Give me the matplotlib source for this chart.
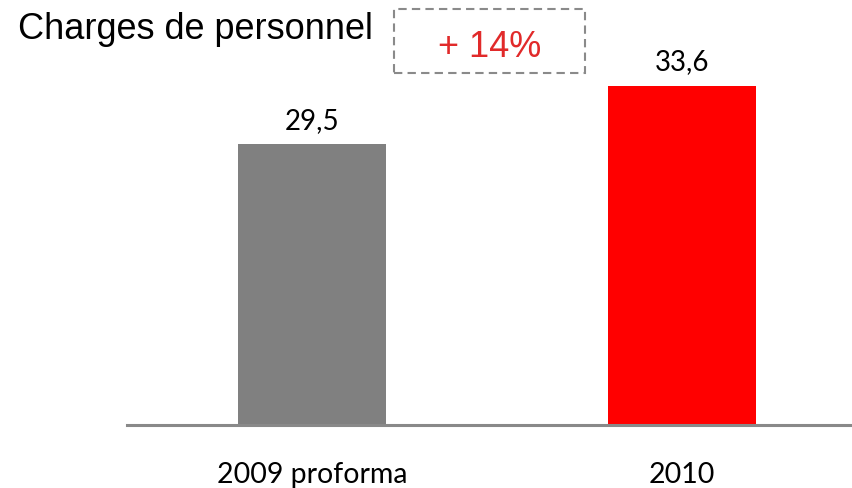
import matplotlib
matplotlib.use("Agg")
import matplotlib.pyplot as plt
from matplotlib.patches import Rectangle

categories = ["2009 proforma", "2010"]
values = [29.5, 33.6]
value_labels = ["29,5", "33,6"]
bar_colors = ["#808080", "#ff0000"]
title = "Charges de personnel"
growth_label = "+ 14%"

W, H = 852, 489
fig = plt.figure(figsize=(W / 100, H / 100), dpi=100)

# axes: x from -0.5..1.5 mapped to px 127..867 ; y 10..35 mapped to baseline 425.5
ax_left = 127 / W
ax_width = 740 / W
ax_bottom = (H - 425.5) / H
ax_height = (25 * 14.36) / H
ax = fig.add_axes([ax_left, ax_bottom, ax_width, ax_height])

x = list(range(len(categories)))
ax.bar(x, values, width=0.4, color=bar_colors, zorder=2)
ax.set_xlim(-0.5, 1.5)
ax.set_ylim(10, 35)

for xi, v, lab in zip(x, values, value_labels):
    ax.annotate(lab, (xi, v), xytext=(0, 8), textcoords="offset points",
                ha="center", va="bottom", fontsize=20, family="Lato", color="black")

for s in ["left", "right", "top"]:
    ax.spines[s].set_visible(False)
ax.spines["bottom"].set_color("#898989")
ax.spines["bottom"].set_linewidth(2.2)
ax.spines["bottom"].set_zorder(3)
ax.set_yticks([])
ax.set_xticks(x)
ax.set_xticklabels(categories, fontsize=20.5, family="Lato")
ax.tick_params(axis="x", length=0, pad=26)

# title
fig.text(18 / W, (H - 39) / H, title, fontsize=26, family="Liberation Sans",
         ha="left", va="baseline", color="black")

# dashed box with growth
bx0, bx1, by0, by1 = 394, 585, 10, 74
rect = Rectangle((bx0 / W, (H - by1) / H), (bx1 - bx0) / W, (by1 - by0) / H,
                 transform=fig.transFigure, fill=False, edgecolor="#8a8a8a",
                 linewidth=1.5, linestyle=(0, (4, 2.5)))
fig.patches.append(rect)
fig.text((bx0 + bx1) / 2 / W, (H - 57) / H, growth_label, fontsize=26,
         family="Liberation Sans", ha="center", va="baseline", color="#e12a2a")

fig.savefig("out.png", dpi=100)
